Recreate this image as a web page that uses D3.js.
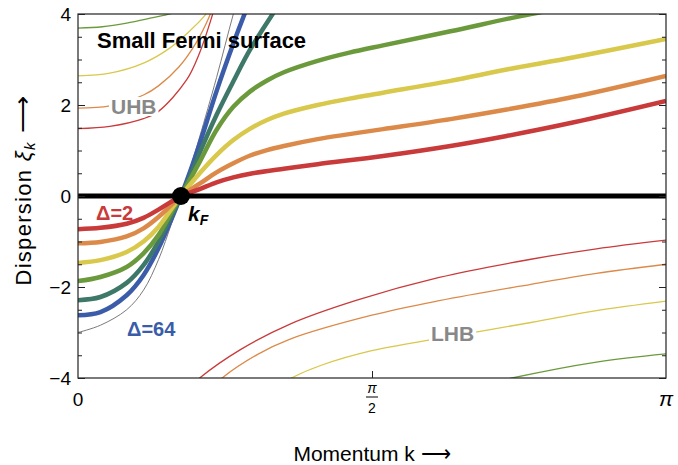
<!DOCTYPE html>
<html>
<head>
<meta charset="utf-8">
<script src="https://cdn.jsdelivr.net/npm/d3@7/dist/d3.min.js"></script>
<style>
  body { margin: 0; background: #fff; }
  text { font-family: Arial, "Liberation Sans", sans-serif; }
</style>
</head>
<body>
<svg id="chart" width="678" height="465"></svg>
<script>
// values, points are [k, xi]
var kF = 0.55;

var qpRed    = [[0,-0.73],[0.12,-0.70],[0.26,-0.61],[0.35,-0.48],[0.43,-0.30],[0.50,-0.12],[0.55,0],[0.65,0.15],[0.74,0.30],[0.83,0.41],[0.92,0.49],[1.10,0.60],[1.28,0.70],[1.63,0.88],[1.99,1.10],[2.29,1.32],[2.65,1.62],[3.1416,2.09]];
var qpOrange = [[0,-1.04],[0.12,-1.01],[0.26,-0.89],[0.35,-0.71],[0.43,-0.46],[0.50,-0.19],[0.55,0],[0.65,0.27],[0.74,0.52],[0.83,0.72],[0.92,0.89],[1.01,1.01],[1.10,1.10],[1.28,1.25],[1.45,1.36],[1.63,1.47],[1.99,1.69],[2.29,1.90],[2.65,2.18],[3.1416,2.64]];
var qpYellow = [[0,-1.47],[0.12,-1.41],[0.26,-1.23],[0.35,-1.00],[0.43,-0.68],[0.50,-0.28],[0.55,0],[0.65,0.50],[0.74,0.90],[0.83,1.23],[0.92,1.48],[1.01,1.67],[1.10,1.81],[1.28,2.00],[1.45,2.14],[1.63,2.27],[1.99,2.53],[2.29,2.78],[2.65,3.05],[3.1416,3.45]];
var qpGreen  = [[0,-1.87],[0.12,-1.78],[0.26,-1.56],[0.35,-1.26],[0.43,-0.86],[0.50,-0.35],[0.55,0],[0.65,0.75],[0.74,1.45],[0.83,1.96],[0.92,2.30],[1.01,2.54],[1.10,2.72],[1.28,2.97],[1.45,3.15],[1.63,3.31],[1.99,3.62],[2.42,4.00],[2.70,4.20]];
var qpTeal   = [[0,-2.29],[0.12,-2.22],[0.26,-1.91],[0.35,-1.52],[0.43,-1.00],[0.50,-0.43],[0.55,0],[0.60,0.45],[0.65,0.95],[0.74,1.78],[0.83,2.52],[0.92,3.22],[1.04,4.00],[1.12,4.50]];
var qpBlue   = [[0,-2.62],[0.12,-2.55],[0.26,-2.18],[0.35,-1.74],[0.43,-1.15],[0.50,-0.50],[0.55,0],[0.60,0.55],[0.65,1.15],[0.74,2.30],[0.83,3.35],[0.89,4.00],[0.95,4.60]];
var bare     = [[0,-3.00],[0.12,-2.84],[0.26,-2.50],[0.35,-2.07],[0.43,-1.40],[0.50,-0.60],[0.55,0],[0.60,0.62],[0.65,1.30],[0.74,2.60],[0.83,4.00],[0.90,5.00]];

var uhbRed    = [[0,1.48],[0.17,1.53],[0.35,1.70],[0.43,1.86],[0.58,2.55],[0.65,3.15],[0.71,3.87],[0.74,4.30]];
var uhbOrange = [[0,1.93],[0.17,1.98],[0.35,2.22],[0.43,2.42],[0.54,2.84],[0.63,3.36],[0.70,3.93],[0.73,4.25]];
var uhbYellow = [[0,2.64],[0.17,2.70],[0.35,2.92],[0.49,3.25],[0.59,3.60],[0.67,3.93],[0.70,4.10]];
var uhbGreen  = [[0,3.69],[0.13,3.72],[0.26,3.80],[0.40,3.92],[0.49,4.00],[0.55,4.10]];

var lhbRed    = [[0.60,-4.20],[0.65,-4.00],[0.87,-3.37],[1.13,-2.82],[1.49,-2.29],[1.93,-1.79],[2.42,-1.39],[2.77,-1.16],[3.1416,-0.97]];
var lhbOrange = [[0.72,-4.20],[0.77,-4.00],[0.96,-3.48],[1.13,-3.15],[1.57,-2.62],[1.93,-2.30],[2.42,-1.94],[2.77,-1.70],[3.1416,-1.50]];
var lhbYellow = [[1.08,-4.15],[1.14,-4.00],[1.30,-3.72],[1.57,-3.40],[1.93,-3.13],[2.42,-2.78],[2.77,-2.52],[3.1416,-2.31]];
var lhbGreen  = [[2.22,-4.10],[2.32,-4.00],[2.77,-3.65],[3.1416,-3.47]];

var yMajor = [-4, -2, 0, 2, 4];
var yMinor = d3.range(-4, 4.01, 0.5);

var colors = {
  red:    "#c93a3a",
  orange: "#dc8a4a",
  yellow: "#d8c84c",
  green:  "#6b9a3c",
  teal:   "#3e7868",
  blue:   "#3b5ca8",
  gray:   "#7a7a7a"
};

var svg = d3.select("#chart");
var plotL = 78, plotR = 666, plotT = 14, plotB = 378;

var x = d3.scaleLinear().domain([0, Math.PI]).range([plotL, plotR]);
var y = d3.scaleLinear().domain([-4, 4]).range([plotB, plotT]);

svg.append("clipPath")
   .attr("id", "plot-clip")
   .append("rect")
   .attr("x", plotL)
   .attr("y", plotT)
   .attr("width", plotR - plotL)
   .attr("height", plotB - plotT);

var line = d3.line()
             .x(function (d) { return x(d[0]); })
             .y(function (d) { return y(d[1]); })
             .curve(d3.curveCatmullRom.alpha(0.5));

var plot = svg.append("g").attr("clip-path", "url(#plot-clip)");

// thin bands first, quasiparticle bands on top
var thin = [
  [uhbRed, colors.red], [uhbOrange, colors.orange], [uhbYellow, colors.yellow], [uhbGreen, colors.green],
  [lhbRed, colors.red], [lhbOrange, colors.orange], [lhbYellow, colors.yellow], [lhbGreen, colors.green],
  [bare, colors.gray]
];
thin.forEach(function (t) {
  plot.append("path")
      .attr("d", line(t[0]))
      .attr("fill", "none")
      .attr("stroke", t[1])
      .attr("stroke-width", t[1] == colors.gray ? 1 : 1.3);
});

var thick = [
  [qpBlue, colors.blue], [qpTeal, colors.teal], [qpGreen, colors.green],
  [qpYellow, colors.yellow], [qpOrange, colors.orange], [qpRed, colors.red]
];
thick.forEach(function (t) {
  plot.append("path")
      .attr("d", line(t[0]))
      .attr("fill", "none")
      .attr("stroke", t[1])
      .attr("stroke-width", 4.5);
});

plot.append("line")
    .attr("x1", plotL).attr("x2", plotR)
    .attr("y1", y(0)).attr("y2", y(0))
    .attr("stroke", "#000")
    .attr("stroke-width", 5);

// frame
svg.append("rect")
   .attr("x", plotL).attr("y", plotT)
   .attr("width", plotR - plotL).attr("height", plotB - plotT)
   .attr("fill", "none")
   .attr("stroke", "#222")
   .attr("stroke-width", 1.2);

// axes, ticks pointing inward
function tickAxis(axis, vals, size, tx, ty) {
  var g = svg.append("g")
             .attr("transform", "translate(" + tx + "," + ty + ")")
             .call(axis.tickValues(vals).tickSizeInner(size).tickSizeOuter(0).tickFormat(""));
  g.select(".domain").remove();
  g.selectAll(".tick line").attr("stroke", "#222");
  return g;
}
tickAxis(d3.axisLeft(y),  yMinor, -4, plotL, 0);
tickAxis(d3.axisLeft(y),  yMajor, -7, plotL, 0);
tickAxis(d3.axisRight(y), yMinor, -4, plotR, 0);
tickAxis(d3.axisRight(y), yMajor, -7, plotR, 0);
tickAxis(d3.axisBottom(x), [Math.PI / 2], -7, 0, plotB);

svg.selectAll(".ylab")
   .data(yMajor)
   .enter().append("text")
   .attr("x", plotL - 7)
   .attr("y", function (d) { return y(d) + 6.5; })
   .attr("text-anchor", "end")
   .attr("font-size", 19)
   .text(function (d) { return d < 0 ? "\u2212" + (-d) : d; });

svg.append("text").attr("x", x(0)).attr("y", 406).attr("text-anchor", "middle")
   .attr("font-size", 19).text("0");
svg.append("text").attr("x", x(Math.PI)).attr("y", 406).attr("text-anchor", "middle")
   .attr("font-size", 21).attr("font-style", "italic").text("\u03c0");
var half = svg.append("g").attr("transform", "translate(" + x(Math.PI / 2) + ",0)");
half.append("text").attr("y", 393).attr("text-anchor", "middle")
    .attr("font-size", 14).attr("font-style", "italic").text("\u03c0");
half.append("line").attr("x1", -6).attr("x2", 6).attr("y1", 397).attr("y2", 397)
    .attr("stroke", "#000").attr("stroke-width", 1);
half.append("text").attr("y", 413).attr("text-anchor", "middle")
    .attr("font-size", 14).text("2");

// axis titles
svg.append("text")
   .attr("x", 372).attr("y", 461)
   .attr("text-anchor", "middle")
   .attr("font-size", 21)
   .text("Momentum k \u27f6");

var ylab = svg.append("text")
   .attr("transform", "translate(31,190) rotate(-90)")
   .attr("text-anchor", "middle")
   .attr("font-size", 22)
   .attr("letter-spacing", 1.3);
ylab.append("tspan").text("Dispersion ");
ylab.append("tspan").attr("font-style", "italic").text("\u03be");
ylab.append("tspan").attr("font-style", "italic").attr("font-size", 15).attr("dy", 4).text("k");
ylab.append("tspan").attr("dy", -4).attr("font-size", 26).text(" \u27f6");

// annotations
svg.append("text").attr("x", 97).attr("y", 48)
   .attr("font-size", 22).attr("font-weight", "bold").text("Small Fermi surface");

function boxedLabel(txt, lx, ly) {
  var t = svg.append("text").attr("x", lx).attr("y", ly)
             .attr("font-size", 21).attr("font-weight", "bold")
             .attr("fill", "#888").text(txt);
  var b = t.node().getBBox();
  svg.insert("rect", function () { return t.node(); })
     .attr("x", b.x - 2).attr("y", b.y + 2)
     .attr("width", b.width + 4).attr("height", b.height - 4)
     .attr("fill", "#fff");
}
boxedLabel("UHB", 111, 114);
boxedLabel("LHB", 431, 341);

svg.append("text").attr("x", 96).attr("y", 220)
   .attr("font-size", 20).attr("font-weight", "bold")
   .attr("fill", colors.red).text("\u0394=2");
svg.append("text").attr("x", 127).attr("y", 336)
   .attr("font-size", 20).attr("font-weight", "bold")
   .attr("fill", colors.blue).text("\u0394=64");

svg.append("circle")
   .attr("cx", x(kF)).attr("cy", y(0)).attr("r", 9)
   .attr("fill", "#000");

var kf = svg.append("text").attr("x", 188).attr("y", 221)
   .attr("font-size", 21).attr("font-weight", "bold").attr("font-style", "italic");
kf.append("tspan").text("k");
kf.append("tspan").attr("font-size", 14).attr("dy", 4).text("F");
</script>
</body>
</html>
